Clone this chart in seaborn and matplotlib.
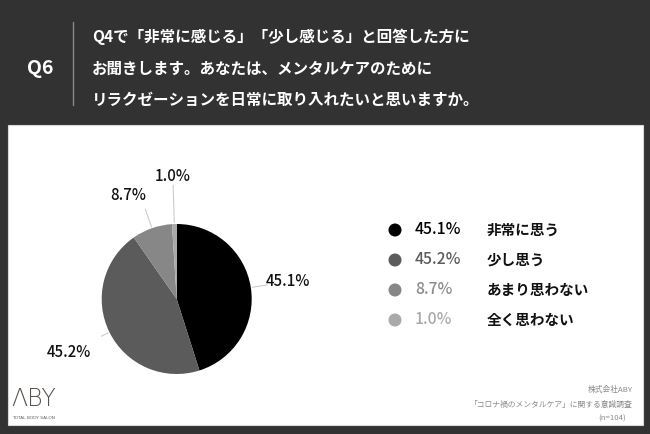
import numpy as np
import matplotlib
matplotlib.use("Agg")
import matplotlib.pyplot as plt
from matplotlib.patches import Rectangle
import seaborn as sns

# ---- data ----
categories = ["非常に思う", "少し思う", "あまり思わない", "全く思わない"]
values = [45.1, 45.2, 8.7, 1.0]
value_labels = ["45.1%", "45.2%", "8.7%", "1.0%"]
colors = ["#000000", "#5b5b5b", "#878787", "#a9a9a9"]
title_lines = ["Q4で「非常に感じる」「少し感じる」と回答した方に",
               "お聞きします。あなたは、メンタルケアのために",
               "リラクゼーションを日常に取り入れたいと思いますか。"]
question = "Q6"
source_lines = ["株式会社ABY", "「コロナ禍のメンタルケア」に関する意識調査", "(n=104)"]

sns.set_theme(style="white")
plt.rcParams['font.family'] = ['Noto Sans CJK JP', 'DejaVu Sans']

W, H = 650, 434
fig = plt.figure(figsize=(W / 100, H / 100), dpi=100)
fig.patch.set_facecolor("#323232")

# overlay axes in pixel coordinates
ov = fig.add_axes([0, 0, 1, 1])
ov.set_xlim(0, W)
ov.set_ylim(H, 0)
ov.axis("off")
ov.patch.set_alpha(0)

# white panel
ov.add_patch(Rectangle((8, 125), 635, 300, facecolor="#ffffff", edgecolor="#d8d8d8", lw=0.8))

# header
ov.text(40, 68, question, color="white", fontsize=14, fontweight="bold", ha="center", va="center")
ov.plot([72.5, 72.5], [22, 105], color="#8a8a8a", lw=1)
for i, line in enumerate(title_lines):
    ov.text(92, 37 + i * 31.5, line, color="white", fontsize=11.2, fontweight="bold", ha="left", va="center")

# legend (manual)
leg_y = [230, 260, 290, 320]
pct_colors = ["#000000", "#5b5b5b", "#8c8c8c", "#a9a9a9"]
for y, c, pc, pl, cat in zip(leg_y, colors, pct_colors, value_labels, categories):
    ov.scatter([395], [y], s=88, color=c, edgecolors="none")
    ov.text(415, y, pl, color=pc, fontsize=11.3, fontweight="medium", ha="left", va="center")
    ov.text(487, y, cat, color="#111111", fontsize=10.5, fontweight="bold", ha="left", va="center")

# footer
ov.text(33.5, 399, "ΛBY", color="#5c524a", fontsize=17, ha="center", va="center",
        family=["DejaVu Sans"], fontweight="light")
ov.text(33.5, 418, "TOTAL BODY SALON", color="#6a625a", fontsize=3.2, ha="center", va="center",
        family=["DejaVu Sans"])
src_y = [390, 405, 419]
src_x = [633, 633, 626]
for x, y, t in zip(src_x, src_y, source_lines):
    ov.text(x, y, t, color="#8a8a8a", fontsize=5.6, ha="right", va="center")

# pie
cx, cy, r = 176.7, 299, 75
ax = fig.add_axes([(cx - r) / W, (H - cy - r) / H, 2 * r / W, 2 * r / H])
wedges, _ = ax.pie(values, colors=colors, startangle=90, counterclock=False,
                   radius=1, wedgeprops=dict(linewidth=0))
ax.set_xlim(-1, 1)
ax.set_ylim(-1, 1)
ax.set_aspect("equal")
ax.axis("off")

label_dist = [1.5, 1.6, 1.53, 1.64]
line_start = [1.02, 1.02, 1.02, 1.02]
line_end = [1.22, 1.12, 1.27, 1.52]
label_angle_off = [0, 0, 6, 0]
for w, lab, d, s, e, off in zip(wedges, value_labels, label_dist, line_start, line_end, label_angle_off):
    th = np.deg2rad((w.theta1 + w.theta2) / 2)
    ax.plot([s * np.cos(th), e * np.cos(th)], [s * np.sin(th), e * np.sin(th)],
            color="#cccccc", lw=0.8, clip_on=False)
    tl = th + np.deg2rad(off)
    ax.text(d * np.cos(tl), d * np.sin(tl), lab, ha="center", va="center",
            fontsize=10.8, fontweight="medium", color="#111111", clip_on=False)

fig.savefig("out.png", dpi=100, facecolor=fig.get_facecolor())
